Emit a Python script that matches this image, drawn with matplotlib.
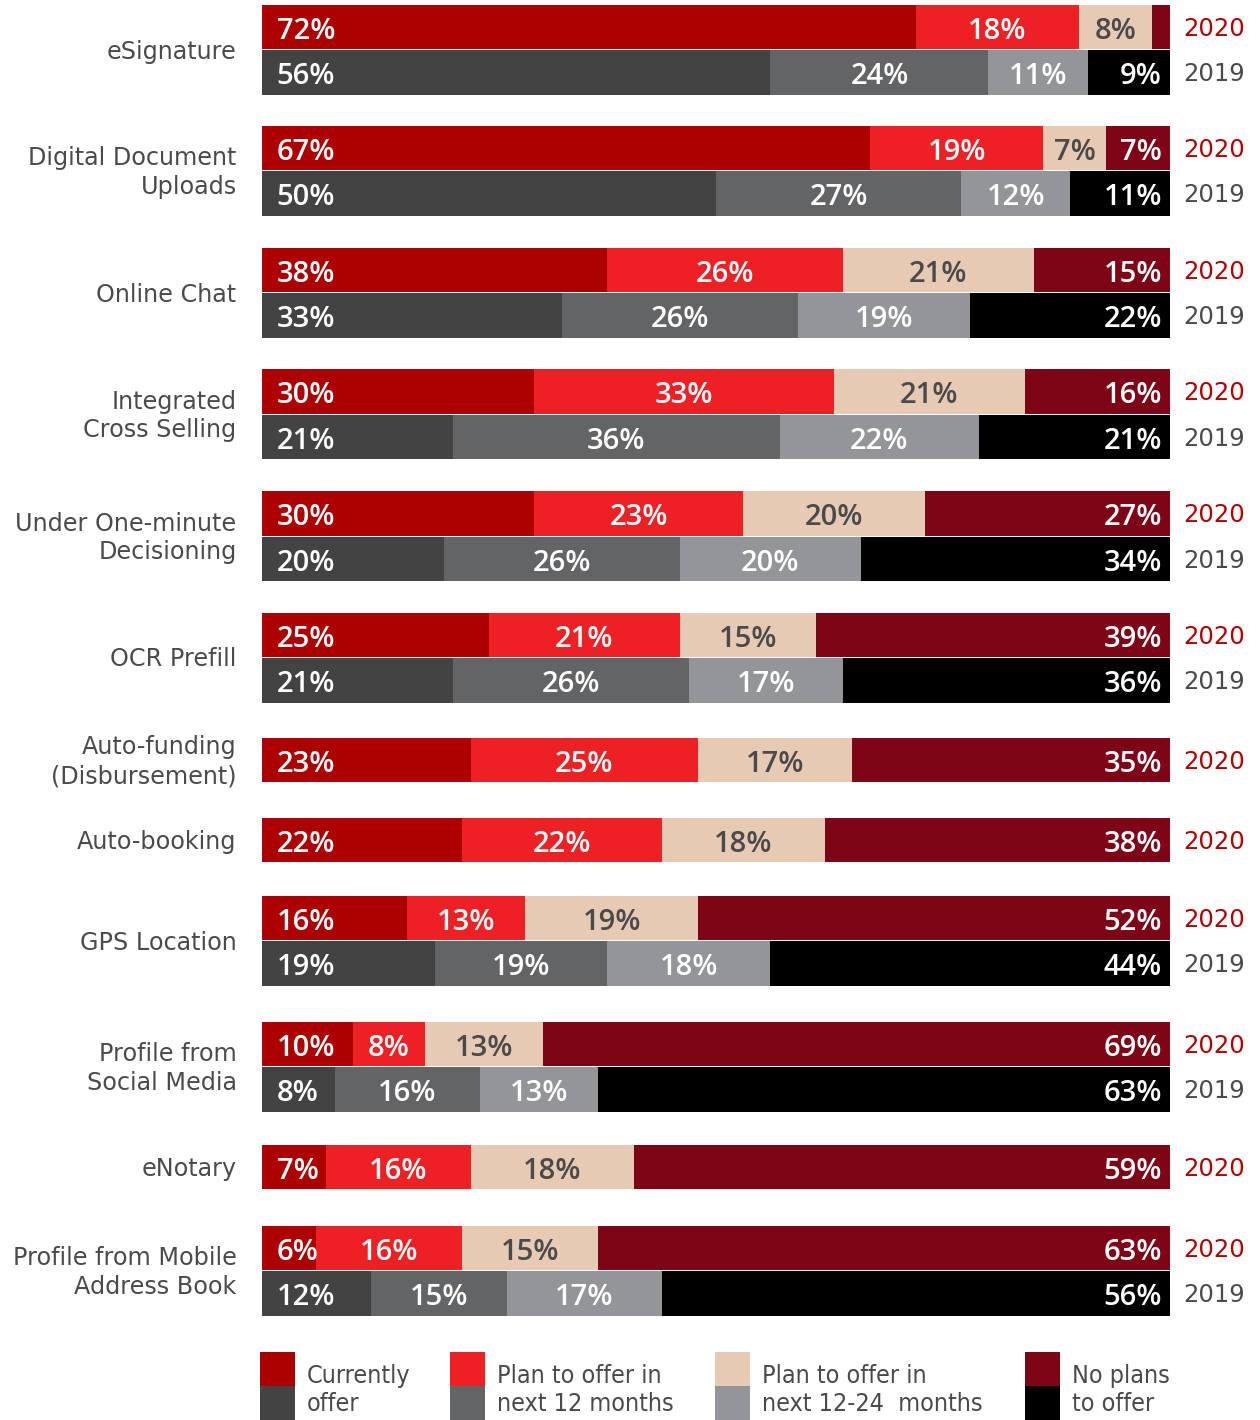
import matplotlib.pyplot as plt
from matplotlib.patches import Rectangle

features = ['eSignature', 'Digital Document\nUploads', 'Online Chat',
            'Integrated\nCross Selling', 'Under One-minute\nDecisioning',
            'OCR Prefill', 'Auto-funding\n(Disbursement)', 'Auto-booking',
            'GPS Location', 'Profile from\nSocial Media', 'eNotary',
            'Profile from Mobile\nAddress Book']

# shares per status: currently / 12 months / 12-24 months / no plans
y2020 = [[72, 18, 8, 2], [67, 19, 7, 7], [38, 26, 21, 15], [30, 33, 21, 16],
         [30, 23, 20, 27], [25, 21, 15, 39], [23, 25, 17, 35], [22, 22, 18, 38],
         [16, 13, 19, 52], [10, 8, 13, 69], [7, 16, 18, 59], [6, 16, 15, 63]]
y2019 = [[56, 24, 11, 9], [50, 27, 12, 11], [33, 26, 19, 22], [21, 36, 22, 21],
         [20, 26, 20, 34], [21, 26, 17, 36], None, None,
         [19, 19, 18, 44], [8, 16, 13, 63], None, [12, 15, 17, 56]]

status = ['Currently\noffer', 'Plan to offer in\nnext 12 months',
          'Plan to offer in\nnext 12-24  months', 'No plans\nto offer']
years = ['2020', '2019']

col2020 = ['#ad0000', '#ed2024', '#e6cab4', '#7d0515']
col2019 = ['#434343', '#636466', '#939598', '#000000']
txt2020 = ['white', 'white', '#4a4a4a', 'white']
grey = '#4a4a4a'

W, H = 1260, 1420
fig = plt.figure(figsize=(W / 100, H / 100), dpi=100)
ax = fig.add_axes([262 / W, 0, 908 / W, 1])
ax.set_xlim(0, 100)
ax.set_ylim(H, 0)
ax.axis('off')

num_font = dict(family=['Open Sans', 'DejaVu Sans'], fontsize=21, fontweight='semibold')
lab_font = dict(family=['DejaVu Sans'], fontsize=17.2, color=grey)

# layout (pixels): bar height and the space left after each group
bh = 45.5
gaps = [30, 31, 30.5, 31, 30.5, 34, 34.5, 32.5, 35, 32, 35.5, 0]
top = 4
for i, name in enumerate(features):
    rows = [(years[0], y2020[i], col2020, txt2020, '#b00000')]
    if y2019[i] is not None:
        rows.append((years[1], y2019[i], col2019, ['white'] * 4, grey))
    for j, (yr, vals, cols, tcols, ycol) in enumerate(rows):
        yc = top + bh * (j + 0.5)
        ty = yc + 4.5
        left = 0
        for k, v in enumerate(vals):
            ax.barh(yc, v, left=left, height=bh - 1, color=cols[k], linewidth=0)
            if v >= 5:
                if k == 0:
                    ax.text(left + 1.6, ty, f'{v}%', ha='left', va='center', color=tcols[k], **num_font)
                elif k == len(vals) - 1:
                    ax.text(left + v - 0.9, ty, f'{v}%', ha='right', va='center', color=tcols[k], **num_font)
                else:
                    ax.text(left + v / 2, ty, f'{v}%', ha='center', va='center', color=tcols[k], **num_font)
            left += v
        ax.text(101.5, yc + 2, yr, ha='left', va='center', color=ycol,
                family=['DejaVu Sans'], fontsize=17.5)
    ax.text(-2.8, top + bh * len(rows) / 2 + 2, name, ha='right', va='center',
            linespacing=1.25, **lab_font)
    top += bh * len(rows) + gaps[i]

# legend with stacked 2020/2019 swatches
lg = fig.add_axes([0, 0, 1, 1])
lg.set_xlim(0, W)
lg.set_ylim(H, 0)
lg.axis('off')
lx = [260, 450, 715, 1025]
for k, s in enumerate(status):
    lg.add_patch(Rectangle((lx[k], 1352), 35, 34, color=col2020[k], lw=0))
    lg.add_patch(Rectangle((lx[k], 1386), 35, 34, color=col2019[k], lw=0))
    lg.text(lx[k] + 47, 1390, s, ha='left', va='center', color=grey,
            family=['DejaVu Sans'], fontstretch='condensed', fontsize=18,
            linespacing=1.25)

fig.savefig('out.png', dpi=100)
